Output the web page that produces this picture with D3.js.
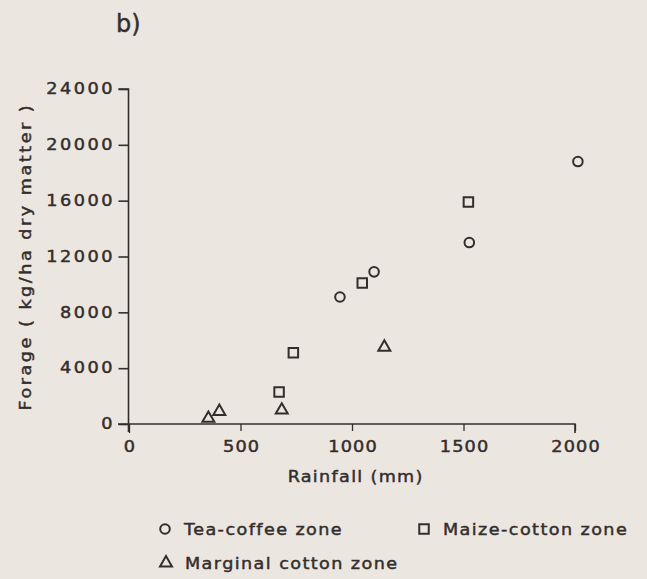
<!DOCTYPE html>
<html><head><meta charset="utf-8">
<script src="https://cdn.jsdelivr.net/npm/d3@7/dist/d3.min.js"></script>
<style>
body{margin:0;background:#ece6e1;}
svg{display:block;}
text{font-family:"DejaVu Sans",sans-serif;fill:#332e2c;stroke:#332e2c;stroke-width:0.45;}
</style></head><body>
<svg id="c" width="647" height="579"></svg>
<script>
const teaX = [946, 1099, 1526, 2013];
const teaY = [9100, 10900, 13000, 18800];
const maizeX = [673, 737, 1046, 1522];
const maizeY = [2300, 5100, 10100, 15900];
const margX = [356, 405, 685, 1145];
const margY = [400, 900, 1000, 5500];
const xTicks = [0, 500, 1000, 1500, 2000];
const yTicks = [0, 4000, 8000, 12000, 16000, 20000, 24000];

const ink = "#332e2c";
const svg = d3.select("#c");
const x = d3.scaleLinear().domain([0, 2000]).range([129, 575]);
const y = d3.scaleLinear().domain([0, 24000]).range([424, 89]);
const SX = 1.18; // wide lettering

// title
svg.append("text").attr("x", 116).attr("y", 32).attr("font-size", 24).attr("stroke-width", 0.2).text("b)");

// y axis
const ya = svg.append("g").attr("transform", "translate(128.5,0)")
  .call(d3.axisLeft(y).tickValues(yTicks).tickSize(10).tickSizeOuter(10).tickPadding(6).tickFormat(d3.format("d")));
ya.select(".domain").attr("d", "M-10,89H0V432").attr("stroke", ink).attr("stroke-width", 1.6).attr("fill", "none");
ya.selectAll(".tick line").attr("stroke", ink).attr("stroke-width", 1.6);
ya.selectAll(".tick text").attr("font-size", 15).attr("letter-spacing", 2.1).attr("dx", 2.1)
  .attr("x", 0).attr("transform", `translate(-16,0) scale(${SX},1)`)
  .attr("font-family", "DejaVu Sans").attr("fill", ink);

// x axis
const xa = svg.append("g").attr("transform", "translate(0,424)")
  .call(d3.axisBottom(x).tickValues(xTicks).tickSize(8).tickSizeOuter(9).tickPadding(9).tickFormat(d3.format("d")));
xa.select(".domain").attr("d", "M118,0H575V9").attr("stroke", ink).attr("stroke-width", 1.6).attr("fill", "none");
xa.selectAll(".tick line").attr("stroke", ink).attr("stroke-width", 1.3).attr("y2", d => d === 0 ? 9 : 7);
xa.selectAll(".tick text").attr("font-size", 15).attr("letter-spacing", 1).attr("dx", 0.5)
  .attr("y", 0).attr("transform", `translate(0,17) scale(${SX},1)`)
  .attr("font-family", "DejaVu Sans").attr("fill", ink).attr("dy", "0.71em");

// axis labels
svg.append("text").attr("transform", `translate(355,482) scale(1.1,1)`).attr("text-anchor", "middle")
  .attr("font-size", 16).attr("letter-spacing", 1.2).attr("dx", 0.6).text("Rainfall (mm)");
svg.append("text").attr("transform", "translate(31,258) rotate(-90) scale(1.1,1)").attr("text-anchor", "middle")
  .attr("font-size", 16).attr("letter-spacing", 2.3).attr("dx", 1.2).text("Forage ( kg/ha dry matter )");

// markers
const sym = {
  circle: d3.symbol().type(d3.symbolCircle).size(72),
  square: d3.symbol().type(d3.symbolSquare).size(90),
  triangle: d3.symbol().type(d3.symbolTriangle).size(62)
};
function plot(xs, ys, s) {
  svg.append("g").selectAll("path").data(xs.map((v, i) => [v, ys[i]])).join("path")
    .attr("transform", d => `translate(${x(d[0])},${y(d[1])})`)
    .attr("d", sym[s]()).attr("fill", "none").attr("stroke", ink).attr("stroke-width", 2);
}
plot(teaX, teaY, "circle");
plot(maizeX, maizeY, "square");
plot(margX, margY, "triangle");

// legend
const legend = [
  {s: "circle", label: "Tea-coffee zone", x: 165, y: 529},
  {s: "square", label: "Maize-cotton zone", x: 424, y: 529},
  {s: "triangle", label: "Marginal cotton zone", x: 166, y: 563}
];
const lg = svg.append("g").selectAll("g").data(legend).join("g")
  .attr("transform", d => `translate(${d.x},${d.y})`);
lg.append("path").attr("d", d => sym[d.s]()).attr("fill", "none").attr("stroke", ink).attr("stroke-width", 2);
lg.append("text").attr("transform", "translate(19,6) scale(1.1,1)").attr("font-size", 16).attr("letter-spacing", 1.3).text(d => d.label);
</script>
</body></html>
